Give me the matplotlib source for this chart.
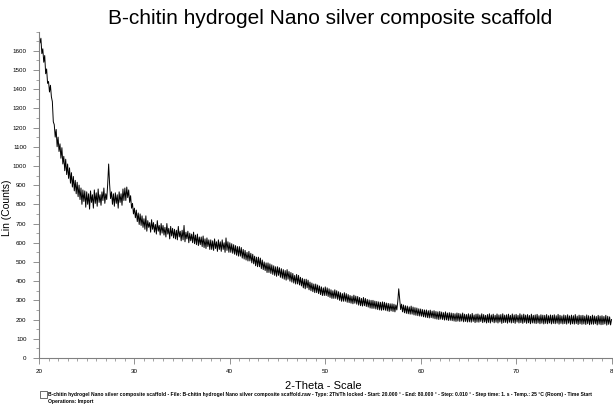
import numpy as np
import matplotlib
matplotlib.use("Agg")
import matplotlib.pyplot as plt
from matplotlib.ticker import MultipleLocator

plt.rcParams['font.family'] = ['Liberation Sans', 'DejaVu Sans']

title = "B-chitin hydrogel Nano silver composite scaffold"
xlabel = "2-Theta - Scale"
ylabel = "Lin (Counts)"
footer1 = ("B-chitin hydrogel Nano silver composite scaffold - File: B-chitin hydrogel Nano silver composite "
           "scaffold.raw - Type: 2Th/Th locked - Start: 20.000 \u00b0 - End: 80.000 \u00b0 - Step: 0.010 \u00b0 - "
           "Step time: 1. s - Temp.: 25 \u00b0C (Room) - Time Start")
footer2 = "Operations: Import"

scan_start = 20.0
scan_step = 0.1

counts = [
    1690, 1640, 1665, 1585, 1610, 1540, 1575, 1480, 1505, 1430,   # 20
    1440, 1385, 1420, 1360, 1335, 1230, 1215, 1150, 1190, 1100,   # 21
    1150, 1075, 1115, 1040, 1095, 1010, 1050, 975, 1035, 955,     # 22
    1010, 935, 990, 910, 965, 890, 945, 870, 925, 855,            # 23
    915, 840, 900, 825, 885, 800, 875, 815, 870, 785,             # 24
    865, 800, 855, 775, 870, 810, 850, 780, 875, 805,             # 25
    860, 790, 880, 810, 850, 795, 865, 820, 885, 805,             # 26
    855, 825, 905, 1010, 905, 830, 865, 800, 855, 790,            # 27
    860, 805, 850, 780, 865, 810, 855, 795, 880, 820,             # 28
    885, 820, 890, 835, 875, 810, 845, 780, 805, 750,             # 29
    780, 730, 770, 710, 755, 695, 750, 690, 740, 680,             # 30
    725, 670, 740, 660, 715, 680, 705, 655, 720, 670,             # 31
    705, 655, 695, 645, 715, 660, 690, 640, 700, 650,             # 32
    690, 640, 680, 630, 700, 645, 675, 620, 685, 635,             # 33
    675, 625, 670, 620, 665, 615, 685, 630, 660, 610,             # 34
    665, 615, 690, 605, 655, 620, 660, 600, 650, 610,             # 35
    645, 600, 655, 595, 640, 590, 645, 585, 630, 590,             # 36
    630, 580, 635, 575, 620, 570, 625, 580, 615, 565,             # 37
    615, 565, 610, 560, 620, 570, 605, 555, 615, 565,             # 38
    605, 555, 615, 565, 600, 550, 625, 560, 605, 550,             # 39
    600, 550, 595, 545, 590, 540, 585, 535, 580, 530,             # 40
    580, 530, 575, 520, 565, 515, 560, 510, 550, 505,             # 41
    555, 505, 545, 495, 540, 490, 530, 480, 525, 475,             # 42
    525, 475, 520, 465, 510, 460, 500, 455, 495, 445,             # 43
    495, 445, 490, 440, 485, 435, 480, 430, 475, 425,             # 44
    475, 430, 470, 420, 465, 415, 460, 410, 455, 405,             # 45
    460, 410, 450, 400, 445, 395, 440, 390, 430, 385,             # 46
    435, 385, 430, 380, 420, 375, 415, 365, 410, 360,             # 47
    410, 365, 405, 355, 395, 350, 390, 345, 385, 340,             # 48
    385, 340, 380, 335, 375, 330, 370, 325, 365, 325,             # 49
    370, 325, 365, 320, 360, 315, 355, 310, 350, 310,             # 50
    355, 310, 350, 305, 345, 300, 340, 295, 335, 295,             # 51
    340, 295, 335, 290, 330, 288, 325, 285, 322, 282,             # 52
    327, 285, 322, 280, 320, 275, 315, 272, 310, 270,             # 53
    315, 272, 310, 268, 305, 265, 302, 260, 300, 258,             # 54
    300, 258, 296, 255, 294, 252, 292, 250, 290, 248,             # 55
    292, 250, 290, 248, 286, 245, 284, 242, 282, 245,             # 56
    282, 242, 280, 240, 276, 250, 295, 360, 305, 252,             # 57
    280, 240, 276, 235, 272, 232, 270, 230, 266, 228,             # 58
    270, 228, 265, 224, 262, 222, 260, 220, 256, 218,             # 59
    255, 217, 252, 214, 250, 212, 250, 210, 246, 208,             # 60
    249, 210, 244, 207, 246, 204, 242, 202, 240, 200,             # 61
    242, 202, 239, 200, 236, 197, 240, 198, 234, 195,             # 62
    236, 196, 234, 194, 232, 192, 230, 190, 234, 192,             # 63
    232, 190, 229, 192, 234, 188, 228, 190, 226, 187,             # 64
    230, 188, 226, 186, 232, 190, 224, 184, 228, 187,             # 65
    229, 186, 224, 190, 230, 184, 226, 187, 222, 182,             # 66
    226, 185, 230, 182, 224, 188, 228, 183, 222, 186,             # 67
    229, 182, 224, 187, 226, 180, 230, 184, 223, 185,             # 68
    225, 181, 228, 186, 222, 182, 229, 184, 224, 180,             # 69
    227, 187, 222, 182, 230, 184, 224, 180, 228, 185,             # 70
    223, 180, 226, 183, 221, 178, 228, 182, 222, 181,             # 71
    224, 179, 227, 182, 220, 178, 225, 181, 223, 177,             # 72
    222, 180, 226, 178, 220, 182, 224, 177, 222, 180,             # 73
    225, 178, 220, 181, 227, 176, 222, 180, 219, 177,             # 74
    224, 179, 221, 176, 225, 181, 219, 175, 223, 178,             # 75
    220, 176, 226, 179, 218, 174, 223, 178, 221, 175,             # 76
    222, 177, 218, 174, 224, 178, 220, 173, 217, 176,             # 77
    223, 175, 219, 178, 216, 172, 222, 176, 218, 173,             # 78
    220, 174, 216, 177, 222, 171, 217, 175, 214, 172,             # 79
    200,                                                          # 80
]

x_ticks = [20, 30, 40, 50, 60, 70, 80]
x_tick_labels = ["20", "30", "40", "50", "60", "70", "8"]
y_ticks = list(range(0, 1700, 100))

two_theta = scan_start + scan_step * np.arange(len(counts))

fig = plt.figure(figsize=(6.13, 4.04), dpi=100)
ax = fig.add_axes([0.0636, 0.114, 0.934, 0.808])
ax.plot(two_theta, counts, color='black', lw=0.7)
ax.set_xlim(20, 80)
ax.set_ylim(0, 1700)

for s in ['top', 'right']:
    ax.spines[s].set_visible(False)
for s in ['left', 'bottom']:
    ax.spines[s].set_color('#808080')
    ax.spines[s].set_linewidth(0.8)

ax.set_xticks(x_ticks)
ax.set_xticklabels(x_tick_labels)
ax.set_yticks(y_ticks)
ax.xaxis.set_minor_locator(MultipleLocator(1))
ax.yaxis.set_minor_locator(MultipleLocator(50))
ax.tick_params(axis='both', which='major', length=4, width=0.6, color='#808080',
               labelsize=4.5)
ax.tick_params(axis='x', which='major', pad=4)
ax.tick_params(axis='y', which='major', pad=5)
ax.tick_params(axis='both', which='minor', length=2, width=0.5, color='#808080')

ax.set_xlabel(xlabel, fontsize=8)
ax.set_ylabel(ylabel, fontsize=7.5)
ax.xaxis.set_label_coords(0.496, -0.0705)
ax.yaxis.set_label_coords(-0.047, 0.46)

fig.text(0.538, 0.955, title, ha='center', va='center', fontsize=15)
fig.text(0.079, 0.023, footer1, fontsize=3.65, ha='left', va='center', fontweight='bold')
fig.text(0.079, 0.006, footer2, fontsize=3.65, ha='left', va='center', fontweight='bold')
fig.patches.append(plt.Rectangle((0.066, 0.016), 0.011, 0.017, transform=fig.transFigure,
                                 fill=False, edgecolor='black', lw=0.4))

fig.savefig("out.png", dpi=100)
